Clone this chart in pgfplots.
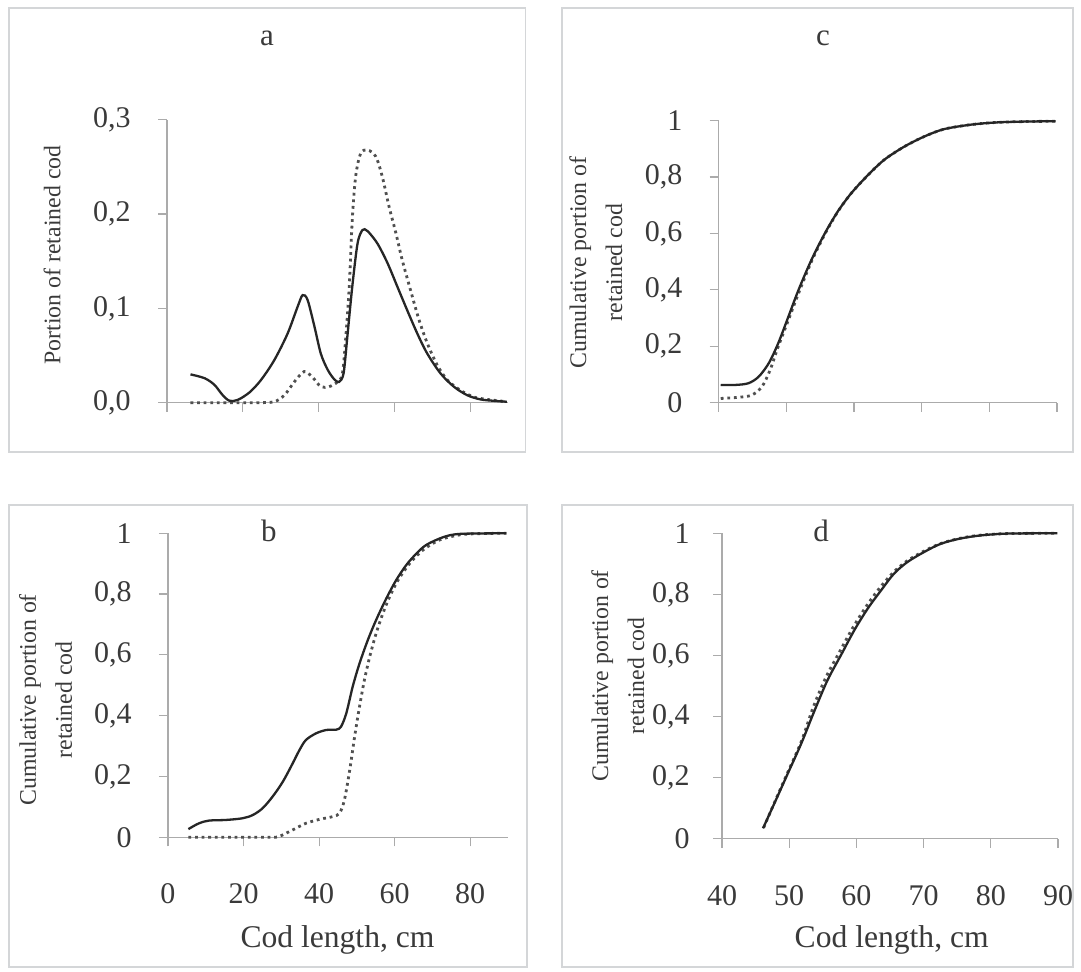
\documentclass[border=0pt]{standalone}
\usepackage{fontspec}
\setmainfont{Liberation Serif}
\usepackage{pgfplots}
\usepackage{pgfplotstable}
\pgfplotsset{compat=1.18}
\definecolor{boxgray}{HTML}{D4D6D8}
\definecolor{axgray}{HTML}{ABABAB}
\definecolor{txt}{HTML}{3A3A3A}
\definecolor{solidc}{HTML}{262626}
\definecolor{dotc}{HTML}{505050}

% Panel a: portion of retained cod
\pgfplotstableread{
x y
6.2 0.030
9.9 0.026
12.5 0.019
14.7 0.008
16.5 0.002
18.7 0.003
21.8 0.011
24.8 0.024
28.3 0.045
31.8 0.073
34.5 0.102
35.8 0.114
37.1 0.109
38.9 0.081
40.6 0.052
42.4 0.035
44.1 0.025
45.4 0.022
46.6 0.031
47.6 0.070
48.9 0.123
50.3 0.169
51.6 0.183
52.9 0.182
55.5 0.169
58.2 0.148
60.8 0.123
63.4 0.098
66.1 0.073
68.7 0.052
72.2 0.031
75.7 0.017
79.2 0.008
82.7 0.0035
86.2 0.002
89.7 0.001
}\dataAsolid
\pgfplotstableread{
x y
6.2 0.0
12 0.0
18 0.0
24 0.0
28.3 0.001
31.0 0.008
33.6 0.022
36.2 0.033
38.4 0.027
40.6 0.017
42.8 0.017
45.0 0.022
46.3 0.031
47.2 0.070
48.1 0.123
48.9 0.194
49.8 0.240
51.1 0.264
52.9 0.268
55.1 0.261
56.8 0.240
58.6 0.208
60.4 0.180
62.1 0.151
64.3 0.119
66.5 0.088
68.7 0.063
71.3 0.040
74.0 0.024
77.5 0.013
81.0 0.006
84.5 0.0035
89.7 0.001
}\dataAdot

% Panel b: cumulative
\pgfplotstableread{
x y
5.4 0.027
8.2 0.046
10.9 0.055
15.3 0.057
19.7 0.0625
22.4 0.073
25.0 0.095
27.7 0.134
30.4 0.183
33.0 0.243
34.8 0.287
36.5 0.320
39.2 0.342
41.9 0.353
44.5 0.354
45.8 0.364
47.2 0.408
48.9 0.496
50.7 0.572
52.9 0.649
55.1 0.715
57.8 0.786
60.4 0.846
63.1 0.896
65.8 0.934
68.4 0.962
72.8 0.987
77.3 0.998
89.6 1.0
}\dataBsolid
\pgfplotstableread{
x y
5.4 0.0
12 0.0
20 0.0
26 0.0
29.0 0.001
31.2 0.013
33.9 0.030
36.5 0.046
40.1 0.059
43.6 0.068
45.4 0.079
46.7 0.123
48.1 0.221
49.4 0.331
50.7 0.430
52.0 0.518
53.4 0.594
55.1 0.671
56.9 0.737
58.7 0.792
60.9 0.846
64.0 0.901
67.5 0.945
71.9 0.978
77.3 0.995
82.6 0.999
89.6 1.0
}\dataBdot

% Panel c: cumulative
\pgfplotstableread{
x y
40.3 0.063
42.5 0.063
44.4 0.069
45.9 0.092
47.4 0.140
48.8 0.211
50.3 0.305
51.8 0.400
53.7 0.506
55.7 0.601
57.6 0.678
59.6 0.743
62.1 0.808
64.5 0.862
67.5 0.909
70.4 0.944
73.3 0.970
77.3 0.986
81.2 0.994
85.6 0.997
89.8 0.998
}\dataCsolid
\pgfplotstableread{
x y
40.3 0.015
42.9 0.019
44.9 0.027
46.4 0.057
47.6 0.116
48.8 0.199
50.3 0.293
51.8 0.388
53.7 0.500
55.7 0.598
57.6 0.677
59.6 0.743
62.1 0.808
64.5 0.862
67.5 0.909
70.4 0.944
73.3 0.970
77.3 0.986
81.2 0.994
85.6 0.997
89.8 0.998
}\dataCdot

% Panel d: cumulative
\pgfplotstableread{
x y
46.1 0.034
47.8 0.116
49.8 0.214
51.8 0.312
53.8 0.421
55.7 0.519
57.7 0.601
59.7 0.683
61.7 0.754
63.7 0.814
65.6 0.868
67.6 0.906
70.1 0.939
72.6 0.966
75.5 0.983
78.5 0.993
82.5 0.999
89.9 1.0
}\dataDsolid
\pgfplotstableread{
x y
46.2 0.036
47.8 0.118
49.8 0.218
51.8 0.318
53.6 0.432
55.5 0.530
57.5 0.612
59.5 0.692
61.5 0.762
63.5 0.822
65.5 0.872
67.5 0.909
70.0 0.941
72.6 0.967
75.5 0.984
78.5 0.994
82.5 0.999
89.9 1.0
}\dataDdot

\pgfplotsset{
  panel/.style={
    scale only axis,
    axis lines*=left,
    axis line style={axgray, line width=0.6pt},
    tick align=outside,
    major tick length=4.5pt,
    tick style={axgray, line width=0.6pt},
    every tick label/.append style={font=\fontsize{15}{18}\selectfont, text=txt},
    /pgf/number format/assume math mode=true,
    /pgf/number format/use comma,
    yticklabel style={anchor=east, inner sep=0pt},
    xticklabel style={anchor=north, inner sep=0pt},
    clip=false,
    title style={font=\fontsize{15.5}{18}\selectfont, text=txt, anchor=center},
    ylabel style={font=\fontsize{11.9}{18}\selectfont, text=txt, anchor=center, align=center},
    xlabel style={font=\fontsize{15.8}{18}\selectfont, text=txt, anchor=center},
  },
  solidline/.style={solidc, line width=1.15pt, smooth, tension=0.5, no markers},
  dotline/.style={dotc, line width=1.4pt, dash pattern=on 1.4pt off 1.9pt, smooth, tension=0.5, no markers},
}

\begin{document}
\begin{tikzpicture}
\useasboundingbox (0,0) rectangle (540.5pt,486pt);
\fill[white] (0,0) rectangle (540.5pt,486pt);
% panel frames
\draw[boxgray, line width=0.9pt] (4.5pt,260.15pt) rectangle (262.75pt,482pt);
\draw[boxgray, line width=0.9pt] (280.85pt,260.15pt) rectangle (536.5pt,482pt);
\draw[boxgray, line width=0.9pt] (4.5pt,2.5pt) rectangle (263.5pt,233.5pt);
\draw[boxgray, line width=0.9pt] (280.85pt,2.5pt) rectangle (536.5pt,233.5pt);

% ---- a ----
\begin{axis}[panel,
  at={(83.5pt,284.65pt)}, anchor=south west,
  width=170.5pt, height=141.5pt,
  xmin=0, xmax=90, ymin=0, ymax=0.3,
  xtick={0,20,40,60,80}, xticklabels={},
  ytick={0,0.1,0.2,0.3},
  yticklabel style={xshift=-13.5pt},
  yticklabel style={/pgf/number format/fixed, /pgf/number format/fixed zerofill, /pgf/number format/precision=1},
  title={a}, title style={at={(axis description cs:0.293,1.246)}},
  ylabel={Portion of retained cod}, ylabel style={at={(axis description cs:-0.337,0.522)}},
]
\addplot[dotline] table[x=x,y=y] {\dataAdot};
\addplot[solidline] table[x=x,y=y] {\dataAsolid};
\end{axis}

% ---- c ----
\begin{axis}[panel,
  at={(359.35pt,284.65pt)}, anchor=south west,
  width=169.15pt, height=141pt,
  xmin=40, xmax=90, ymin=0, ymax=1,
  xtick={40,50,60,70,80,90}, xticklabels={},
  ytick={0,0.2,0.4,0.6,0.8,1},
  yticklabel style={xshift=-13.5pt},
  yticklabel style={/pgf/number format/fixed, /pgf/number format/precision=1},
  title={c}, title style={at={(axis description cs:0.308,1.251)}},
  ylabel={Cumulative portion of\\retained cod}, ylabel style={at={(axis description cs:-0.363,0.497)}},
]
\addplot[dotline] table[x=x,y=y] {\dataCdot};
\addplot[solidline] table[x=x,y=y] {\dataCsolid};
\end{axis}

% ---- b ----
\begin{axis}[panel,
  at={(84pt,67.35pt)}, anchor=south west,
  width=170pt, height=152pt,
  xmin=0, xmax=90, ymin=0, ymax=1,
  xtick={0,20,40,60,80},
  ytick={0,0.2,0.4,0.6,0.8,1},
  yticklabel style={xshift=-13.5pt},
  xticklabel style={yshift=-18.5pt},
  yticklabel style={/pgf/number format/fixed, /pgf/number format/precision=1},
  title={b}, title style={at={(axis description cs:0.297,0.967)}},
  ylabel={Cumulative portion of\\retained cod}, ylabel style={at={(axis description cs:-0.36,0.452)}},
  xlabel={Cod length, cm}, xlabel style={at={(axis description cs:0.4985,-0.338)}},
]
\addplot[dotline] table[x=x,y=y] {\dataBdot};
\addplot[solidline] table[x=x,y=y] {\dataBsolid};
\end{axis}

% ---- d ----
\begin{axis}[panel,
  at={(361pt,66.65pt)}, anchor=south west,
  width=168pt, height=152.7pt,
  xmin=40, xmax=90, ymin=0, ymax=1,
  xtick={40,50,60,70,80,90},
  ytick={0,0.2,0.4,0.6,0.8,1},
  yticklabel style={xshift=-11.5pt},
  xticklabel style={yshift=-18.5pt},
  yticklabel style={/pgf/number format/fixed, /pgf/number format/precision=1},
  title={d}, title style={at={(axis description cs:0.295,0.967)}},
  ylabel={Cumulative portion of\\retained cod}, ylabel style={at={(axis description cs:-0.31,0.533)}},
  xlabel={Cod length, cm}, xlabel style={at={(axis description cs:0.505,-0.332)}},
]
\addplot[dotline] table[x=x,y=y] {\dataDdot};
\addplot[solidline] table[x=x,y=y] {\dataDsolid};
\end{axis}
\end{tikzpicture}
\end{document}
